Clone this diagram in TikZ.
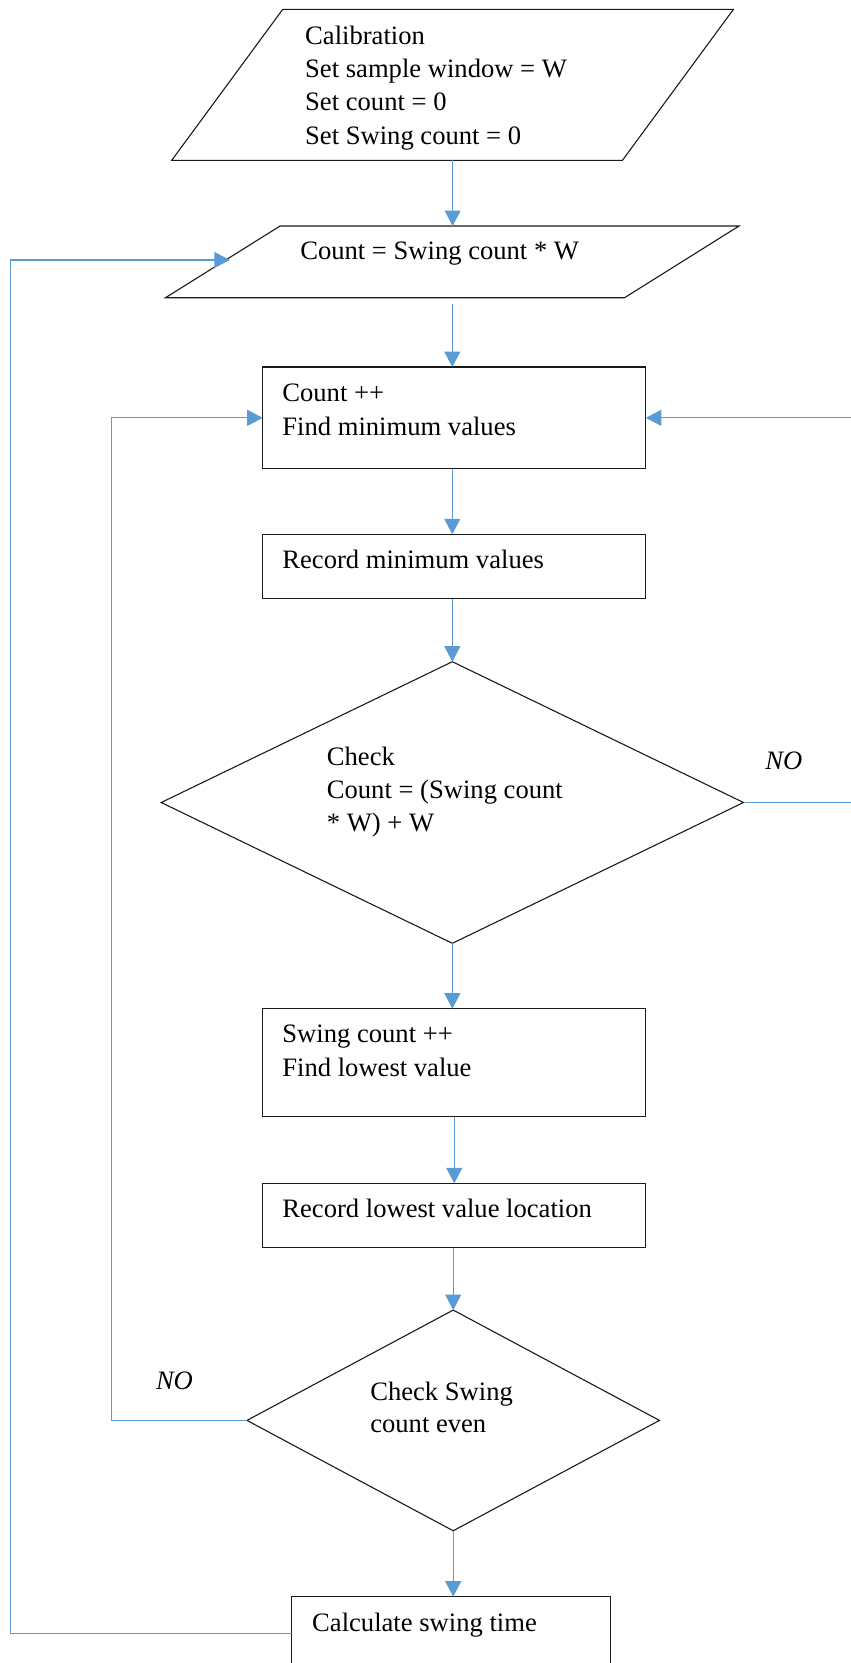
\documentclass[tikz,border=0pt]{standalone}
\usepackage{fontspec}
\setmainfont{Liberation Serif}
\usetikzlibrary{arrows.meta,shapes.geometric,calc}
\definecolor{flowblue}{HTML}{5B9BD5}
\definecolor{edgegrey}{HTML}{1A1A1A}
\begin{document}
\begin{tikzpicture}[x=1pt,y=-1pt,
  outline/.style={draw=edgegrey,line width=1.1pt},
  stepbox/.style={outline,rectangle,inner sep=0pt,outer sep=0pt},
  decision/.style={outline,diamond,inner sep=0pt,outer sep=0pt},
  frame/.style={rectangle,inner sep=0pt,outer sep=0pt},
  label/.style={anchor=base west,inner sep=0pt,font=\fontsize{26.6}{33}\selectfont},
  nolabel/.style={label,font=\fontsize{26.6}{33}\selectfont\itshape},
  conn/.style={draw=flowblue,line width=1.1pt},
  flow/.style={conn,-{Triangle[length=15.5pt,width=16pt]}}
]
\useasboundingbox (0,0) rectangle (851,1663);
\clip (0,0) rectangle (851,1663);

% input / calibration parallelogram
\node[frame,minimum width=561.7pt,minimum height=151pt] (cal) at (452.6,84.8) {};
\draw[outline] ([xshift=111pt]cal.north west) -- (cal.north east)
  -- ([xshift=-111pt]cal.south east) -- (cal.south west) -- cycle;

% count reset parallelogram
\node[frame,minimum width=573.5pt,minimum height=71.7pt] (cnt) at (452.3,261.85) {};
\draw[outline] ([xshift=114.5pt]cnt.north west) -- (cnt.north east)
  -- ([xshift=-114.5pt]cnt.south east) -- (cnt.south west) -- cycle;
\path ([xshift=114.5pt]cnt.north west) -- (cnt.south west) coordinate[pos=0.474] (cnt-in);

% process boxes
\node[stepbox,minimum width=383.1pt,minimum height=101.7pt] (r1) at (454.25,417.85) {};
\node[stepbox,minimum width=383.1pt,minimum height=64.4pt] (r2) at (454.25,566.5) {};
\node[stepbox,minimum width=383.1pt,minimum height=108pt] (r3) at (454.25,1062.7) {};
\node[stepbox,minimum width=383.1pt,minimum height=64.4pt] (r4) at (454.25,1215.5) {};
\node[stepbox,minimum width=318.9pt,minimum height=73.3pt] (r5) at (451.35,1633.3) {};

% decisions
\node[decision,minimum width=582.3pt,minimum height=281.6pt] (d1) at (452.35,802.5) {};
\node[decision,minimum width=412.5pt,minimum height=220.7pt] (d2) at (453.2,1420.4) {};

% texts
\node[label] (cal-1) at (305,44) {Calibration};
\node[label] (cal-2) at (305,77.3) {Set sample window = W};
\node[label] (cal-3) at (305,110.6) {Set count = 0};
\node[label] (cal-4) at (305,144) {Set Swing count = 0};
\node[label] (cnt-1) at (300.1,259.3) {Count = Swing count * W};
\node[label] (r1-1) at (282.2,401.7) {Count ++};
\node[label] (r1-2) at (282.2,435) {Find minimum values};
\node[label] (r2-1) at (282.2,568.3) {Record minimum values};
\node[label] (d1-1) at (326.7,765) {Check};
\node[label] (d1-2) at (326.7,798.3) {Count = (Swing count};
\node[label] (d1-3) at (326.7,831.7) {* W) + W};
\node[nolabel] (no-1) at (765.2,769.3) {NO};
\node[label] (r3-1) at (282.2,1042.7) {Swing count ++};
\node[label] (r3-2) at (282.2,1076) {Find lowest value};
\node[label] (r4-1) at (282.2,1217.7) {Record lowest value location};
\node[label] (d2-1) at (370.1,1400) {Check Swing};
\node[label] (d2-2) at (370.1,1432.7) {count even};
\node[nolabel] (no-2) at (155.8,1389.3) {NO};
\node[label] (r5-1) at (312,1631.7) {Calculate swing time};

% main flow, all straight down
\draw[flow] (cal.south) -- (cal.south |- cnt.north);
\draw[flow,shorten <=6.3pt] (cnt.south) -- (cnt.south |- r1.north);
\draw[flow] (r1.south -| cnt.south) -- (cnt.south |- r2.north);
\draw[flow] (r2.south -| d1.north) -- (d1.north);
\draw[flow] (d1.south) -- (d1.south |- r3.north);
\draw[flow] (r3.south) -- (r4.north);
\draw[flow] (r4.south -| d2.north) -- (d2.north);
\draw[flow] (d2.south) -- (d2.south |- r5.north);

% loops back
\draw[flow] (d1.east) -- ++(140,0) |- (r1.east);
\draw[flow] (d2.west) -| ([xshift=-151.4pt]r1.west) -- (r1.west);
\draw[flow,shorten >=-4pt] (r5.west) -| ([xshift=-215pt]cnt-in) -- (cnt-in);
\end{tikzpicture}
\end{document}
